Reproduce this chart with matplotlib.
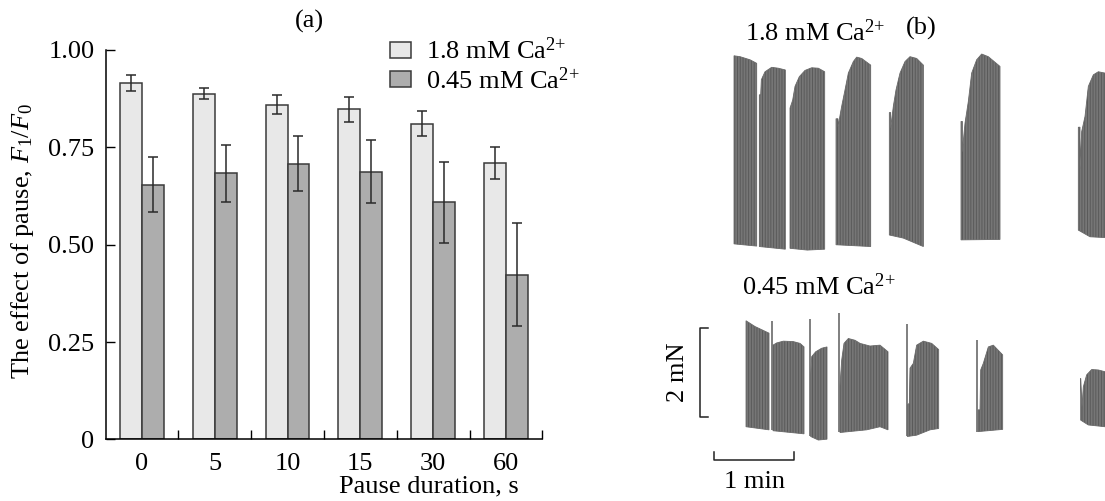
import numpy as np
import matplotlib
matplotlib.use('Agg')
import matplotlib.pyplot as plt
from matplotlib.patches import Patch

plt.rcParams['font.family'] = 'Liberation Serif'
plt.rcParams['mathtext.fontset'] = 'custom'
plt.rcParams['mathtext.rm'] = 'Liberation Serif'
plt.rcParams['mathtext.it'] = 'Liberation Serif:italic'
plt.rcParams['hatch.linewidth'] = 0.7
FS = 19

# ---- panel (a) data
pauses = ['0', '5', '10', '15', '30', '60']
ratio_hi = [0.916, 0.888, 0.860, 0.848, 0.811, 0.710]
err_hi = [0.020, 0.015, 0.025, 0.032, 0.032, 0.040]
ratio_lo = [0.654, 0.683, 0.708, 0.688, 0.609, 0.423]
err_lo = [0.070, 0.074, 0.070, 0.081, 0.104, 0.132]

# ---- panel (b) data: force traces (time s, force mN), envelope of each burst
hi_top_t = [[15, 19.5, 27, 32],
            [34, 35, 35.5, 38.25, 43.25, 48.25, 53.5],
            [57, 59, 60.75, 64, 68.25, 73.25, 78.25, 83],
            [91.5, 93, 93, 95.75, 98.25, 100.75, 104.5, 107, 110.75, 117.5],
            [131.5, 132.5, 132.5, 134.5, 136.5, 139.5, 143.25, 147, 152, 157],
            [185.25, 186.25, 186.25, 188.25, 190.75, 193.25, 197, 200.75, 205.75, 214.5],
            [273.25, 274.5, 274.5, 275.75, 278.25, 280.75, 284.5, 288.25, 293.25, 300]]
hi_top_f = [[4.49, 4.47, 4.40, 4.32],
            [3.61, 3.61, 3.95, 4.13, 4.23, 4.21, 4.17],
            [3.31, 3.49, 3.80, 4.02, 4.16, 4.22, 4.21, 4.13],
            [3.07, 3.07, 2.89, 3.35, 3.72, 4.10, 4.36, 4.46, 4.43, 4.28],
            [3.21, 3.21, 2.86, 3.35, 3.72, 4.10, 4.36, 4.47, 4.43, 4.28],
            [3.01, 3.01, 2.33, 2.97, 3.46, 4.10, 4.40, 4.53, 4.47, 4.25],
            [2.88, 2.88, 1.95, 2.78, 3.12, 3.80, 4.06, 4.13, 4.10, 4.08]]
hi_bot_t = [[15, 32], [34, 53.5], [57, 70, 83], [91.5, 117.5],
            [131.5, 142, 157], [185.25, 214.5], [273.25, 282, 300]]
hi_bot_f = [[0.25, 0.20], [0.19, 0.13], [0.15, 0.11, 0.13], [0.23, 0.19],
            [0.45, 0.38, 0.19], [0.34, 0.35], [0.56, 0.41, 0.38]]

lo_top_t = [[24, 30.75, 41.25],
            [44.25, 47, 52, 59.5, 64.5, 67.5],
            [72.5, 73.25, 76.25, 80.75, 84.75],
            [94.5, 95.75, 97.5, 100.75, 105.75, 109.5, 117, 124.5, 130.5],
            [145, 146.5, 147, 149.5, 152, 157, 163.25, 168.5],
            [198, 199.5, 200, 202, 205.75, 209.5, 216.5],
            [275, 276, 277, 279.5, 283.25, 288.25, 293.25, 300]]
lo_top_f = [[2.69, 2.56, 2.41],
            [2.14, 2.19, 2.23, 2.22, 2.18, 2.10],
            [1.47, 1.88, 1.99, 2.07, 2.10],
            [1.22, 1.80, 2.18, 2.29, 2.25, 2.18, 2.12, 2.14, 1.99],
            [0.79, 0.83, 1.62, 1.73, 2.14, 2.23, 2.18, 2.04],
            [0.68, 0.68, 1.58, 1.73, 2.10, 2.14, 1.92],
            [1.39, 0.75, 1.20, 1.47, 1.59, 1.58, 1.54, 1.54]]
lo_bot_t = [[24, 41.25], [44.25, 67.5], [72.5, 78.25, 84.75], [94.5, 114.5, 124.5, 130.5],
            [145, 152, 162, 168.5], [198, 216.5], [275, 280.75, 293.25, 300]]
lo_bot_f = [[0.30, 0.23], [0.21, 0.14], [0.08, 0.0, 0.02], [0.17, 0.23, 0.30, 0.23],
            [0.08, 0.11, 0.23, 0.26], [0.19, 0.24], [0.45, 0.34, 0.30, 0.30]]
# first (tall) contraction after each pause
spike_t = [43.5, 72, 94, 144.5, 197.5]
spike_top = [2.68, 2.72, 2.86, 2.61, 2.25]
spike_bot = [0.22, 0.08, 0.19, 0.08, 0.19]

fig = plt.figure(figsize=(11.05, 5.01), dpi=100)

# ================= (a)
ax = fig.add_axes([0.0955, 0.1228, 0.3953, 0.7774])
x = np.arange(len(pauses))
w = 0.3
ekw = dict(ecolor='#2a2a2a', elinewidth=1.1, capsize=3.3, capthick=1.1)
ax.bar(x - w / 2, ratio_hi, w, yerr=err_hi, color='#e8e8e8', edgecolor='#3a3a3a',
       linewidth=1.1, error_kw=ekw)
ax.bar(x + w / 2, ratio_lo, w, yerr=err_lo, color='#adadad', edgecolor='#3a3a3a',
       linewidth=1.1, error_kw=ekw)
ax.set_xlim(-0.5, len(pauses) - 0.5)
ax.set_ylim(0, 1.0)
ax.set_yticks([0, 0.25, 0.5, 0.75, 1.0])
ax.set_yticklabels(['0', '0.25', '0.50', '0.75', '1.00'])
ax.set_xticks(x)
ax.set_xticklabels(pauses)
ax.set_xticks(list(x + 0.5), minor=True)
ax.tick_params(axis='x', which='major', length=0, pad=10, labelsize=FS)
ax.tick_params(axis='x', which='minor', direction='in', length=6.5, width=1)
ax.tick_params(axis='y', direction='in', length=6.5, width=1, pad=8, labelsize=FS)
for s in ['top', 'right']:
    ax.spines[s].set_visible(False)
for s in ['left', 'bottom']:
    ax.spines[s].set_linewidth(1.1)
ax.set_xlabel('Pause duration, s', fontsize=FS, ha='right', va='top')
ax.xaxis.set_label_coords(0.947, -0.093)
ax.set_ylabel('The effect of pause, $F_1/F_0$', fontsize=FS)
ax.yaxis.set_label_coords(-0.16, 0.51)
fig.text(0.28, 0.958, '(a)', fontsize=FS, ha='center', va='center')
handles = [Patch(facecolor='#e8e8e8', edgecolor='#3a3a3a', linewidth=1.1),
           Patch(facecolor='#adadad', edgecolor='#3a3a3a', linewidth=1.1)]
fig.legend(handles, ['1.8 mM Ca$^{2{+}}$', '0.45 mM Ca$^{2{+}}$'], loc='upper left',
           bbox_to_anchor=(0.353, 0.925), frameon=False, fontsize=FS, borderaxespad=0,
           borderpad=0, handlelength=0.8, handleheight=0.55, handletextpad=0.55,
           labelspacing=0.12)

# ================= (b)
def draw_traces(axb, tt, tf, bt, bf):
    for t1, f1, t2, f2 in zip(tt, tf, bt, bf):
        px = np.r_[t1, t2[::-1]]
        py = np.r_[f1, f2[::-1]]
        axb.fill(px, py, facecolor='#767676', edgecolor='#5a5a5a', hatch='|' * 6,
                 linewidth=0)
        axb.fill(px, py, facecolor='none', edgecolor='#6a6a6a', linewidth=0.6)

xl = (-55.5, 293.25)
axt = fig.add_axes([0.5792, 0.461, 0.4208, 0.479])
draw_traces(axt, hi_top_t, hi_top_f, hi_bot_t, hi_bot_f)
axt.set_xlim(*xl)
axt.set_ylim(-0.34, 5.07)
axt.axis('off')

axb = fig.add_axes([0.5792, 0.0, 0.4208, 0.421])
draw_traces(axb, lo_top_t, lo_top_f, lo_bot_t, lo_bot_f)
axb.vlines(spike_t, spike_bot, spike_top, color='#6a6a6a', linewidth=1.2)
axb.set_xlim(*xl)
axb.set_ylim(-1.375, 3.382)
axb.axis('off')
# scale bars: 2 mN and 1 min
axb.plot([-4.25, -10.5, -10.5, -4.25], [2.53, 2.53, 0.53, 0.53], color='#222222', lw=1.1)
axb.plot([0, 0, 60, 60], [-0.26, -0.45, -0.45, -0.26], color='#222222', lw=1.1)
axb.text(-27, 1.53, '2 mN', rotation=90, fontsize=FS, ha='center', va='center')
axb.text(30, -0.95, '1 min', fontsize=FS, ha='center', va='center')

fig.text(745 / 1105, 1 - 33 / 501, '1.8 mM Ca$^{2{+}}$', fontsize=FS, ha='left', va='center')
fig.text(921 / 1105, 1 - 28 / 501, '(b)', fontsize=FS, ha='center', va='center')
fig.text(742 / 1105, 1 - 287 / 501, '0.45 mM Ca$^{2{+}}$', fontsize=FS, ha='left', va='center')

fig.savefig('out.png', dpi=100)
